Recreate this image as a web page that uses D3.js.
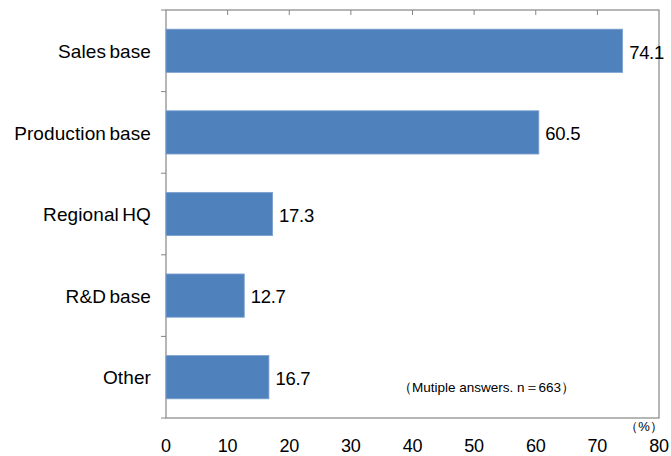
<!DOCTYPE html>
<html>
<head>
<meta charset="utf-8">
<script src="https://cdn.jsdelivr.net/npm/d3@7"></script>
<style>
  html, body { margin: 0; padding: 0; background: #fff; }
  svg { display: block; }
  text { font-family: "Liberation Sans", Arial, sans-serif; fill: #000; }
</style>
</head>
<body>
<svg id="chart" width="671" height="456"></svg>
<script>
// Overseas base functions (multiple answers, %)
const categories = ["Sales base", "Production base", "Regional HQ", "R&D base", "Other"];
const values = [74.1, 60.5, 17.3, 12.7, 16.7];
const xTicks = [0, 10, 20, 30, 40, 50, 60, 70, 80];
const unitLabel = "（%）";
const note = "（Mutiple answers. n＝663）";

const svg = d3.select("#chart");
const plotLeft = 166, plotRight = 659, plotTop = 10, plotBottom = 418;

const x = d3.scaleLinear().domain([0, 80]).range([plotLeft, plotRight]);
const y = d3.scaleBand().domain(categories).range([plotTop, plotBottom]).paddingInner(0.47).paddingOuter(0.235);

const frame = "#868686";

// plot frame
svg.append("rect")
  .attr("x", plotLeft).attr("y", plotTop)
  .attr("width", plotRight - plotLeft).attr("height", plotBottom - plotTop)
  .attr("fill", "none").attr("stroke", frame).attr("stroke-width", 1.2);

// tick marks along the top edge
svg.append("g").selectAll("line").data(xTicks.slice(1, -1)).join("line")
  .attr("x1", d => x(d)).attr("x2", d => x(d))
  .attr("y1", plotTop).attr("y2", plotTop + 5)
  .attr("stroke", frame).attr("stroke-width", 1);

// category boundary ticks on the left axis
const bounds = d3.range(categories.length + 1).map(i => plotTop + i * (plotBottom - plotTop) / categories.length);
svg.append("g").selectAll("line").data(bounds).join("line")
  .attr("x1", plotLeft - 5).attr("x2", plotLeft)
  .attr("y1", d => d).attr("y2", d => d)
  .attr("stroke", frame).attr("stroke-width", 1);

// bars
svg.append("g").selectAll("rect").data(values).join("rect")
  .attr("x", x(0))
  .attr("y", (d, i) => y(categories[i]))
  .attr("width", d => x(d) - x(0))
  .attr("height", y.bandwidth())
  .attr("fill", "#4F81BD")
  .attr("stroke", "#7da2cf").attr("stroke-width", 0.8);

// value labels
svg.append("g").selectAll("text").data(values).join("text")
  .attr("x", d => x(d) + 6.5)
  .attr("y", (d, i) => y(categories[i]) + y.bandwidth() / 2)
  .attr("dy", "0.42em")
  .attr("font-size", 18.5)
  .attr("letter-spacing", -0.3)
  .text(d => d.toFixed(1));

// category labels
svg.append("g").selectAll("text").data(categories).join("text")
  .attr("x", 151)
  .attr("y", d => y(d) + y.bandwidth() / 2)
  .attr("dy", "0.38em")
  .attr("text-anchor", "end")
  .attr("font-size", 19)
  .attr("letter-spacing", 0.1)
  .attr("word-spacing", -2)
  .text(d => d);

// x tick labels
svg.append("g").selectAll("text").data(xTicks).join("text")
  .attr("x", d => x(d))
  .attr("y", 452)
  .attr("text-anchor", "middle")
  .attr("font-size", 18)
  .attr("letter-spacing", -0.2)
  .text(d => d);

// unit label
svg.append("text")
  .attr("x", 644).attr("y", 431)
  .attr("text-anchor", "middle")
  .attr("font-size", 13)
  .text(unitLabel);

// sample note
svg.append("text")
  .attr("x", 398).attr("y", 392)
  .attr("font-size", 13.5)
  .text(note);
</script>
</body>
</html>
